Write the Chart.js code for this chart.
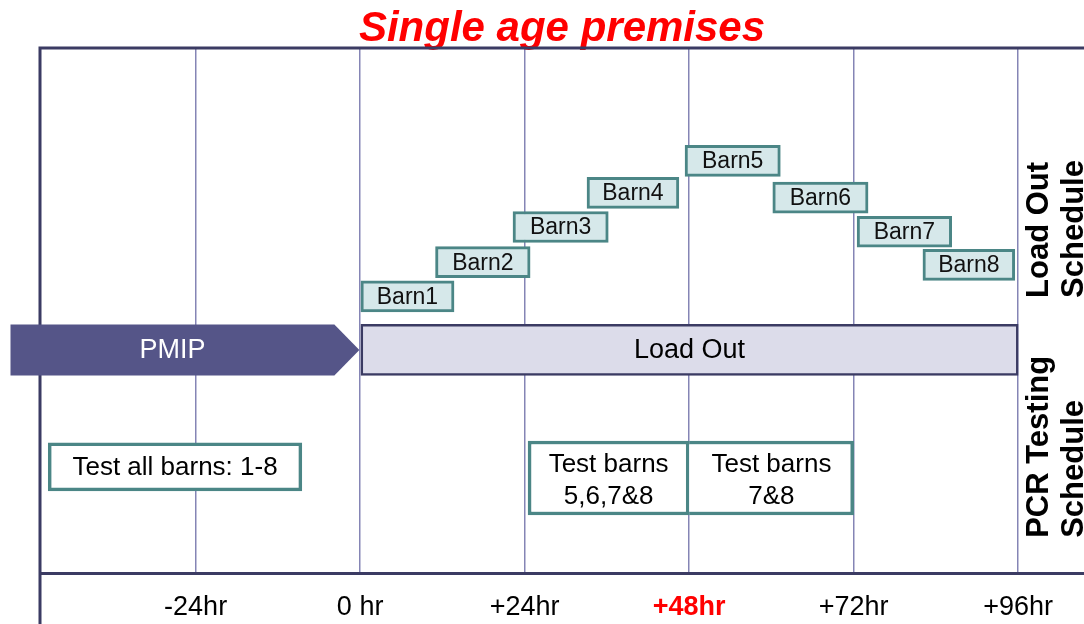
<!DOCTYPE html>
<html>
<head>
<meta charset="utf-8">
<script src="https://cdn.jsdelivr.net/npm/chart.js@4/dist/chart.umd.min.js"></script>
<style>
  body { margin: 0; background: #fff; }
  canvas { display: block; }
</style>
</head>
<body>
<canvas id="schedule-chart" width="1084" height="624"></canvas>
<script>
// hours relative to load out start
const tickValues = [-24, 0, 24, 48, 72, 96];
const tickLabels = ['-24hr', '0 hr', '+24hr', '+48hr', '+72hr', '+96hr'];

const barnNames = ['Barn1', 'Barn2', 'Barn3', 'Barn4', 'Barn5', 'Barn6', 'Barn7', 'Barn8'];
const barnStart = [0, 11, 22.3, 33.1, 47.4, 60.2, 72.5, 82.1];
const barnEnd = [13.7, 24.8, 36.2, 46.5, 61.3, 74.1, 86.3, 95.5];
const barnLevel = [52.7, 59.2, 65.9, 72.4, 78.5, 71.5, 65.0, 58.7];

const phaseNames = ['PMIP', 'Load Out'];
const phaseStart = [-51, 0];
const phaseEnd = [0, 96];
const phaseLevel = 42.5;

const testAllText = ['Test all barns: 1-8'];
const testAllRange = [-45.5, -8.5];
const testAllLevel = 20.2;

const testPairText = [['Test barns', '5,6,7&8'], ['Test barns', '7&8']];
const testPairStart = [24.5, 48];
const testPairEnd = [48, 72];
const testPairLevel = 18.1;

const sideLabels = [['Load Out', 'Schedule'], ['PCR Testing', 'Schedule']];
const sideLevels = [52.4, 6.7];

const FONT = '"Liberation Sans", Arial, sans-serif';
Chart.defaults.font.family = FONT;

const TEAL = '#4b8686';
const NAVY = '#3b3b63';

// labels in the middle of each box (and the PMIP arrow shape)
const boxLabels = {
    id: 'boxLabels',
    afterDatasetsDraw(chart) {
        const ctx = chart.ctx;
        chart.data.datasets.forEach((ds, i) => {
            const meta = chart.getDatasetMeta(i);
            meta.data.forEach((bar, j) => {
                const { x, y, base, height } = bar.getProps(['x', 'y', 'base', 'height'], true);
                const left = Math.min(x, base);
                const right = Math.max(x, base);
                let cx = (left + right) / 2;
                if (ds.arrow) {
                    const tip = 25;
                    ctx.save();
                    ctx.fillStyle = ds.arrow;
                    ctx.beginPath();
                    ctx.moveTo(left, y - height / 2);
                    ctx.lineTo(right - tip, y - height / 2);
                    ctx.lineTo(right, y);
                    ctx.lineTo(right - tip, y + height / 2);
                    ctx.lineTo(left, y + height / 2);
                    ctx.closePath();
                    ctx.fill();
                    ctx.restore();
                    cx = (left + right - tip) / 2;
                }
                const lines = [].concat(ds.texts[j]);
                const lh = ds.fontSize * 1.23;
                ctx.save();
                ctx.fillStyle = ds.textColor;
                ctx.font = ds.fontSize + 'px ' + FONT;
                ctx.textAlign = 'center';
                ctx.textBaseline = 'middle';
                lines.forEach((t, k) => {
                    ctx.fillText(t, cx, y + (k - (lines.length - 1) / 2) * lh + (lines.length > 1 ? 3 : 1));
                });
                ctx.restore();
            });
        });
    }
};

// frame lines (under the boxes) and the rotated row titles on the right
const frame = {
    id: 'frame',
    beforeDatasetsDraw(chart) {
        const ctx = chart.ctx;
        const area = chart.chartArea;
        ctx.save();
        ctx.strokeStyle = NAVY;
        ctx.lineWidth = 3;
        ctx.beginPath();
        ctx.moveTo(area.left, chart.height);
        ctx.lineTo(area.left, area.top);
        ctx.lineTo(chart.width, area.top);
        ctx.stroke();
        ctx.restore();
    },
    afterDraw(chart) {
        const ctx = chart.ctx;
        const xs = chart.scales.x;
        const ys = chart.scales.y;
        ctx.save();
        ctx.fillStyle = '#000';
        ctx.font = 'bold 31px ' + FONT;
        ctx.textAlign = 'left';
        ctx.textBaseline = 'alphabetic';
        const x96 = xs.getPixelForValue(96);
        sideLabels.forEach((group, g) => {
            const yy = ys.getPixelForValue(sideLevels[g]);
            group.forEach((t, k) => {
                ctx.save();
                ctx.translate(x96 + 30 + k * 35, yy);
                ctx.rotate(-Math.PI / 2);
                ctx.fillText(t, 0, 0);
                ctx.restore();
            });
        });
        ctx.restore();
    }
};

const ctx = document.getElementById('schedule-chart').getContext('2d');
new Chart(ctx, {
    type: 'bar',
    data: {
        datasets: [
            {
                label: 'Load Out',
                data: [{ x: [phaseStart[1], phaseEnd[1]], y: phaseLevel }],
                backgroundColor: '#dcdcea',
                borderColor: NAVY,
                borderWidth: 2.5,
                borderSkipped: false,
                barThickness: 51,
                texts: [phaseNames[1]],
                textColor: '#000',
                fontSize: 27
            },
            {
                label: 'PMIP',
                data: [{ x: [phaseStart[0], phaseEnd[0]], y: phaseLevel }],
                backgroundColor: 'rgba(0,0,0,0)',
                borderWidth: 0,
                barThickness: 51,
                clip: false,
                arrow: '#555588',
                texts: [phaseNames[0]],
                textColor: '#fff',
                fontSize: 27
            },
            {
                label: 'Barns',
                data: barnNames.map((n, i) => ({ x: [barnStart[i], barnEnd[i]], y: barnLevel[i] })),
                backgroundColor: '#d6e8ea',
                borderColor: TEAL,
                borderWidth: 3,
                borderSkipped: false,
                barThickness: 31,
                texts: barnNames,
                textColor: '#111',
                fontSize: 23
            },
            {
                label: 'Test all',
                data: [{ x: testAllRange, y: testAllLevel }],
                backgroundColor: '#fff',
                borderColor: TEAL,
                borderWidth: 3.5,
                borderSkipped: false,
                barThickness: 48,
                texts: [testAllText],
                textColor: '#000',
                fontSize: 26
            },
            {
                label: 'Test pair',
                data: testPairText.map((t, i) => ({ x: [testPairStart[i], testPairEnd[i]], y: testPairLevel })),
                backgroundColor: '#fff',
                borderColor: TEAL,
                borderWidth: 3.5,
                borderSkipped: (c) => c.dataIndex === 1 ? 'left' : false,
                barThickness: 74,
                texts: testPairText,
                textColor: '#000',
                fontSize: 26
            }
        ]
    },
    options: {
        responsive: false,
        animation: false,
        indexAxis: 'y',
        layout: { padding: { left: 40, right: 0, top: 0, bottom: 0 } },
        datasets: { bar: { grouped: false } },
        plugins: {
            legend: { display: false },
            tooltip: { enabled: false },
            title: {
                display: true,
                text: 'Single age premises',
                color: '#ff0000',
                font: { size: 42, weight: 'bold', style: 'italic', lineHeight: 0.8 },
                padding: { top: 13, bottom: 1.4 }
            }
        },
        scales: {
            x: {
                type: 'linear',
                min: -46.7,
                max: 105.6,
                afterBuildTicks: (scale) => {
                    scale.ticks = tickValues.map(v => ({ value: v }));
                },
                afterFit: (scale) => {
                    scale.height = 51;
                },
                grid: {
                    color: '#8585b5',
                    lineWidth: 1.5,
                    drawTicks: false
                },
                border: { display: true, color: NAVY, width: 3 },
                ticks: {
                    autoSkip: false,
                    maxRotation: 0,
                    padding: 18,
                    color: (c) => c.tick && c.tick.value === 48 ? '#ff0000' : '#000',
                    font: (c) => c.tick && c.tick.value === 48
                        ? { size: 27, weight: 'bold' }
                        : { size: 27 },
                    callback: (value) => tickLabels[tickValues.indexOf(value)]
                }
            },
            y: {
                type: 'linear',
                min: 0,
                max: 100,
                offset: false,
                display: false
            }
        }
    },
    plugins: [boxLabels, frame]
});
</script>
</body>
</html>
